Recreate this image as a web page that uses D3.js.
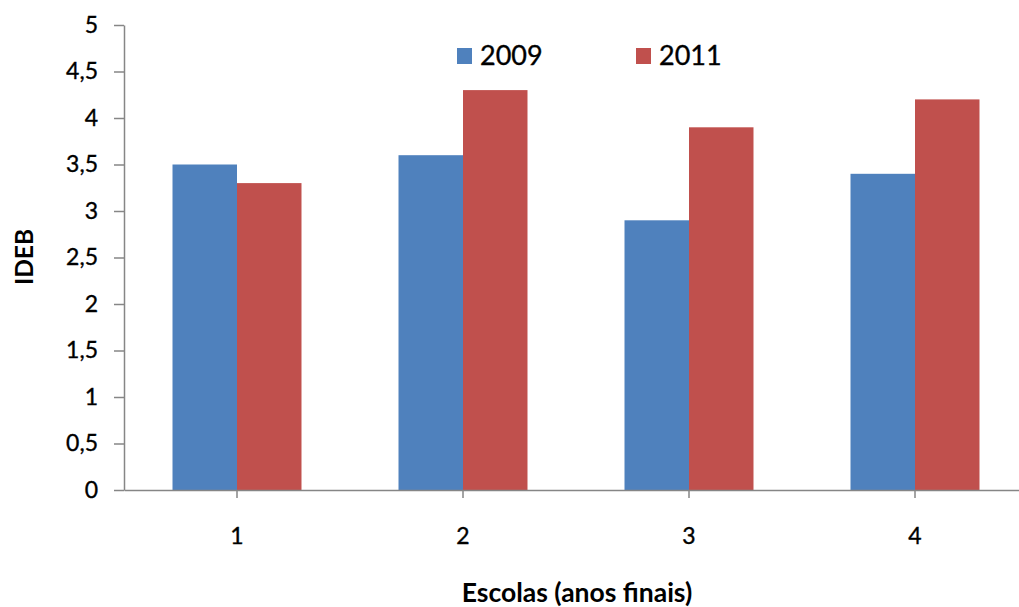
<!DOCTYPE html>
<html>
<head>
<meta charset="utf-8">
<script src="https://cdn.jsdelivr.net/npm/d3@7"></script>
<style>
  html, body { margin: 0; padding: 0; background: #fff; }
  svg { display: block; font-family: Lato, "Open Sans", sans-serif; }
</style>
</head>
<body>
<svg id="chart" width="1019" height="607"></svg>
<script>
// IDEB por escola, anos finais
const escolas = ["1", "2", "3", "4"];
const anos = ["2009", "2011"];
const ideb2009 = [3.5, 3.6, 2.9, 3.4];
const ideb2011 = [3.3, 4.3, 3.9, 4.2];
const yTicks = [0, 0.5, 1, 1.5, 2, 2.5, 3, 3.5, 4, 4.5, 5];
const cores = ["#4F81BD", "#C0504D"];

const rows = escolas.map((e, i) => ({ escola: e, valores: [ideb2009[i], ideb2011[i]] }));

const svg = d3.select("#chart");
const plot = { left: 124, right: 1028, top: 25, bottom: 490 };

const x = d3.scaleBand().domain(escolas).range([plot.left, plot.right]).padding(0);
const x1 = d3.scaleBand().domain(anos).range([0, x.bandwidth()]).paddingInner(0).paddingOuter(0.752);
const y = d3.scaleLinear().domain([0, 5]).range([plot.bottom, plot.top]);
const color = d3.scaleOrdinal().domain(anos).range(cores);

const ptBR = d3.formatLocale({ decimal: ",", thousands: ".", grouping: [3], currency: ["R$", ""] });
const fmt = ptBR.format(".1~f");

// barras
const g = svg.append("g");
g.selectAll("g.grupo")
  .data(rows)
  .join("g")
  .attr("class", "grupo")
  .attr("transform", d => `translate(${x(d.escola)},0)`)
  .selectAll("rect")
  .data(d => anos.map((a, i) => ({ ano: a, v: d.valores[i] })))
  .join("rect")
  .attr("x", d => x1(d.ano))
  .attr("width", x1.bandwidth())
  .attr("y", d => y(d.v))
  .attr("height", d => y(0) - y(d.v))
  .attr("fill", d => color(d.ano));

// eixo Y
const yAxis = svg.append("g")
  .attr("transform", `translate(${plot.left},0)`)
  .call(d3.axisLeft(y).tickValues(yTicks).tickFormat(fmt).tickSize(10).tickSizeOuter(0).tickPadding(16));
yAxis.select(".domain").attr("stroke", "#868686").attr("stroke-width", 1.5);
yAxis.selectAll(".tick line").attr("stroke", "#868686").attr("stroke-width", 1.5);
yAxis.selectAll(".tick text")
  .attr("font-size", 23).attr("fill", "#000")
  .attr("stroke", "#000").attr("stroke-width", 0.35)
  .attr("font-family", "Lato, sans-serif");

// eixo X
const xAxis = svg.append("g")
  .attr("transform", `translate(0,${plot.bottom})`)
  .call(d3.axisBottom(x).tickSize(8).tickSizeOuter(0).tickPadding(30));
xAxis.select(".domain").attr("stroke", "#868686").attr("stroke-width", 1.5);
xAxis.selectAll(".tick line").attr("stroke", "#868686").attr("stroke-width", 1.5);
xAxis.selectAll(".tick text")
  .attr("font-size", 23).attr("fill", "#000")
  .attr("stroke", "#000").attr("stroke-width", 0.35)
  .attr("font-family", "Lato, sans-serif");

// títulos dos eixos
svg.append("text")
  .attr("x", 577).attr("y", 602)
  .attr("text-anchor", "middle")
  .attr("font-size", 26.5).attr("font-weight", "bold")
  .text("Escolas (anos finais)");

svg.append("text")
  .attr("transform", `translate(33,257) rotate(-90)`)
  .attr("text-anchor", "middle")
  .attr("font-size", 24.5).attr("font-weight", "bold")
  .text("IDEB");

// legenda
const legX = [457, 636];
const leg = svg.append("g").selectAll("g")
  .data(anos)
  .join("g")
  .attr("transform", (d, i) => `translate(${legX[i]},48)`);
leg.append("rect").attr("width", 15).attr("height", 16).attr("fill", d => color(d));
leg.append("text")
  .attr("x", 23).attr("y", 17)
  .attr("font-size", 27)
  .attr("fill", "#000")
  .attr("stroke", "#000").attr("stroke-width", 0.35)
  .text(d => d);
</script>
</body>
</html>
